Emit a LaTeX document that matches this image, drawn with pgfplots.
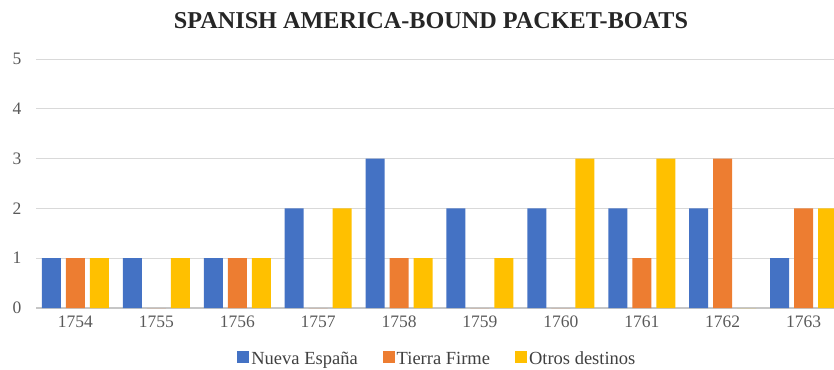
\documentclass[border=0pt]{standalone}
\usepackage{fontspec}
\setmainfont{Liberation Serif}
\usepackage{pgfplots}
\pgfplotsset{compat=1.18}
\usepackage{pgfplotstable}
\definecolor{cblue}{HTML}{4472C4}
\definecolor{corange}{HTML}{ED7D31}
\definecolor{cyellow}{HTML}{FFC000}
\definecolor{tickgray}{HTML}{595959}
\definecolor{gridgray}{HTML}{D9D9D9}
\pgfplotstableread{
x ns tf od
0 1 1 1
1 1 0 1
2 1 1 1
3 2 0 2
4 3 1 1
5 2 0 1
6 2 0 3
7 2 1 3
8 2 3 0
9 1 2 2
}\datatable
\begin{document}
\begin{tikzpicture}[x=1pt,y=1pt]
\clip (0,0) rectangle (834,369);
\path[use as bounding box] (0,0) rectangle (834,369);
\node[font=\bfseries\fontsize{24.2}{28}\selectfont, text=black!85] at (431,348) {SPANISH AMERICA-BOUND PACKET-BOATS};
\begin{axis}[
  at={(36pt,61pt)}, anchor=south west,
  scale only axis, width=798pt, height=249pt,
  xmin=-0.488, xmax=9.376, ymin=0, ymax=5,
  ybar, bar width=19pt,
  xtick=data, xticklabels={1754,1755,1756,1757,1758,1759,1760,1761,1762,1763},
  ytick={0,1,2,3,4,5},
  major tick length=0pt,
  axis line style={draw=none},
  ymajorgrids, grid style={gridgray, line width=1pt},
  extra y ticks={0}, extra y tick labels={},
  extra y tick style={grid style={draw=gridgray!80!black!70, line width=1.2pt}},
  ticklabel style={font=\fontsize{17.5}{20}\selectfont, text=tickgray},
  /pgf/number format/assume math mode=true,
  yticklabel style={xshift=-11pt},
  xticklabel style={yshift=-4pt},
  legend style={at={(0.503,-0.205)}, anchor=center, draw=none, fill=none,
    font=\fontsize{18.5}{21}\selectfont, text=black!75, legend columns=3,
    inner sep=0pt,
    /tikz/every even column/.append style={column sep=23pt}},
  legend image code/.code={\fill[#1] (0pt,-4pt) rectangle (12pt,8pt);},
]
\addplot[fill=cblue, draw=none, bar shift=-24pt] table[x=x,y=ns] {\datatable};
\addplot[fill=corange, draw=none, bar shift=0pt] table[x=x,y=tf] {\datatable};
\addplot[fill=cyellow, draw=none, bar shift=24pt] table[x=x,y=od] {\datatable};
\legend{Nueva España, Tierra Firme, Otros destinos}
\end{axis}
\end{tikzpicture}
\end{document}
